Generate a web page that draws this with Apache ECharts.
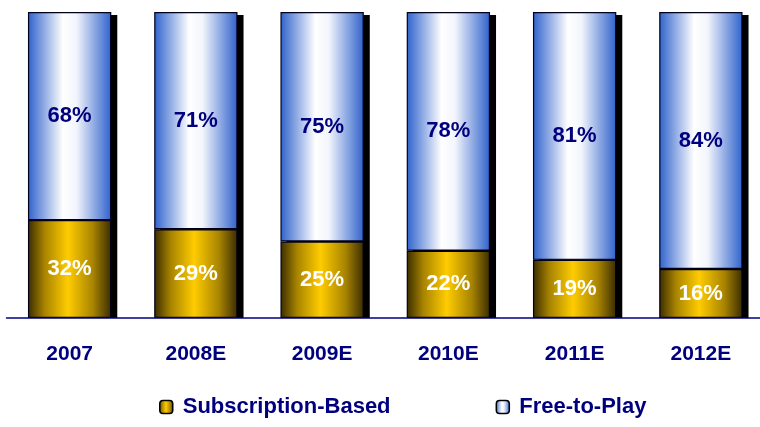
<!DOCTYPE html>
<html>
<head>
<meta charset="utf-8">
<script src="https://cdn.jsdelivr.net/npm/echarts@6/dist/echarts.min.js"></script>
<style>
  html, body { margin: 0; padding: 0; background: #fff; }
  #chart { width: 760px; height: 427px; }
</style>
</head>
<body>
<div id="chart"></div>
<script>
const categories = ['2007', '2008E', '2009E', '2010E', '2011E', '2012E']
const subscription = [32, 29, 25, 22, 19, 16]
const freeToPlay = [68, 71, 75, 78, 81, 84]
const totals = subscription.map((v, i) => v + freeToPlay[i])

const navy = '#00007f'
const font = '"Liberation Sans", Arial, sans-serif'

// a fresh gradient per use, echarts caches the canvas gradient on the object
const gold = () => new echarts.graphic.LinearGradient(0, 0, 1, 0, [
  { offset: 0, color: '#3a2c00' },
  { offset: 0.2, color: '#a88400' },
  { offset: 0.48, color: '#ffcc00' },
  { offset: 0.78, color: '#a88400' },
  { offset: 1, color: '#3a2c00' },
])
const blue = () => new echarts.graphic.LinearGradient(0, 0, 1, 0, [
  { offset: 0, color: '#2f62cc' },
  { offset: 0.42, color: '#ffffff' },
  { offset: 0.58, color: '#f2f5fc' },
  { offset: 1, color: '#2f62cc' },
])

const labelStyle = (color) => ({
  show: true,
  position: 'inside',
  formatter: '{c}%',
  color: color,
  fontSize: 22,
  fontWeight: 'bold',
  fontFamily: font,
})

const charts = echarts.init(document.getElementById('chart'))
charts.setOption({
  backgroundColor: '#fff',
  animation: false,
  textStyle: { fontFamily: font },
  grid: [
    { left: 6.5, right: -4, top: 12, bottom: 109, outerBoundsMode: 'none' },
    // drop shadow grid, shifted right and down
    { left: 12.5, right: -10, top: 15, bottom: 109, outerBoundsMode: 'none' },
  ],
  legend: {
    bottom: 4,
    left: 154,
    itemGap: 105,
    itemWidth: 13,
    itemHeight: 13,
    textStyle: {
      color: navy, fontSize: 22, fontWeight: 'bold', fontFamily: font,
      padding: [0, 0, 0, 5],
    },
    data: [
      { name: 'Subscription-Based', itemStyle: { color: gold(), borderColor: '#000', borderWidth: 1.5 } },
      { name: 'Free-to-Play', itemStyle: { color: blue(), borderColor: '#000', borderWidth: 1.5 } },
    ],
  },
  xAxis: [
    {
      type: 'category',
      data: categories,
      gridIndex: 0,
      z: 5,
      axisTick: { show: false },
      axisLine: { lineStyle: { color: navy, width: 1.5 } },
      axisLabel: { color: navy, fontSize: 21, fontWeight: 'bold', margin: 26, fontFamily: font },
    },
    { type: 'category', data: categories, gridIndex: 1, show: false },
  ],
  yAxis: [
    { type: 'value', min: 0, max: 100, show: false, gridIndex: 0 },
    { type: 'value', min: 0, max: 100, show: false, gridIndex: 1 },
  ],
  series: [
    {
      name: 'shadow',
      type: 'bar',
      xAxisIndex: 1,
      yAxisIndex: 1,
      barWidth: '66%',
      data: totals,
      z: 1,
      silent: true,
      itemStyle: { color: '#000' },
    },
    {
      name: 'Subscription-Based',
      type: 'bar',
      stack: 'share',
      barWidth: '66%',
      data: subscription,
      z: 3,
      itemStyle: { color: gold(), borderColor: '#000018', borderWidth: 1.2 },
      label: labelStyle('#fff'),
    },
    {
      name: 'Free-to-Play',
      type: 'bar',
      stack: 'share',
      barWidth: '66%',
      data: freeToPlay,
      z: 3,
      itemStyle: { color: blue(), borderColor: '#000018', borderWidth: 1.2 },
      label: labelStyle(navy),
    },
  ],
})
</script>
</body>
</html>
